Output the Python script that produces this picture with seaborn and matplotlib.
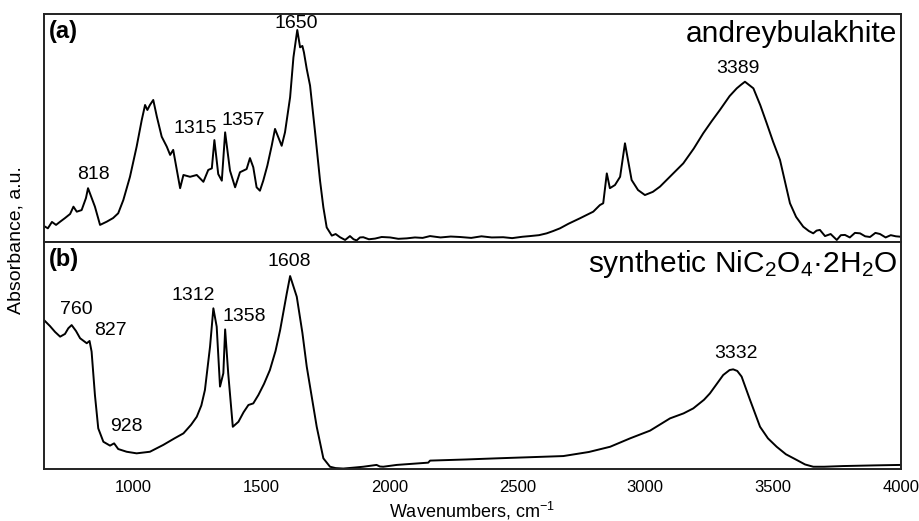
import numpy as np
import pandas as pd
import seaborn as sns
import matplotlib.pyplot as plt

# spectrum (a): andreybulakhite
wn_a = [650, 665, 681, 697, 713, 732, 752, 765, 778, 797, 814, 822, 849, 869, 895, 920, 940,
        960, 986, 1012, 1032, 1045, 1054, 1064, 1077, 1091, 1110, 1130, 1143, 1155, 1182, 1195,
        1221, 1247, 1273, 1292, 1306, 1316, 1331, 1345, 1358, 1377, 1397, 1416, 1442, 1455,
        1468, 1481, 1494, 1507, 1523, 1540, 1553, 1566, 1579, 1592, 1612, 1625, 1640, 1651,
        1660, 1666, 1677, 1690, 1709, 1729, 1742, 1755, 1775, 1790, 1807, 1827, 1846, 1860,
        1872, 1885, 1898, 1920, 1944, 1970, 2003, 2035, 2068, 2100, 2130, 2159, 2200, 2240,
        2276, 2320, 2360, 2400, 2445, 2480, 2520, 2550, 2585, 2615, 2640, 2667, 2700, 2745,
        2770, 2797, 2823, 2836, 2850, 2862, 2882, 2902, 2921, 2947, 2972, 2999, 3030, 3058,
        3100, 3149, 3190, 3227, 3260, 3292, 3330, 3358, 3375, 3390, 3423, 3450, 3475, 3500,
        3527, 3566, 3590, 3618, 3640, 3657, 3670, 3683, 3703, 3725, 3749, 3765, 3781, 3800,
        3820, 3840, 3860, 3879, 3900, 3918, 3940, 3960, 3980, 4000]
abs_a = [0.070, 0.060, 0.088, 0.075, 0.089, 0.105, 0.123, 0.155, 0.133, 0.140, 0.193, 0.236,
         0.155, 0.075, 0.089, 0.105, 0.126, 0.184, 0.286, 0.418, 0.535, 0.601, 0.579, 0.601,
         0.623, 0.550, 0.462, 0.418, 0.382, 0.404, 0.236, 0.294, 0.286, 0.294, 0.264, 0.316,
         0.323, 0.447, 0.298, 0.269, 0.481, 0.313, 0.240, 0.306, 0.320, 0.368, 0.328, 0.240,
         0.225, 0.269, 0.335, 0.422, 0.496, 0.459, 0.422, 0.481, 0.635, 0.810, 0.930, 0.854,
         0.860, 0.832, 0.759, 0.686, 0.488, 0.269, 0.152, 0.064, 0.028, 0.035, 0.021, 0.009,
         0.026, 0.012, 0.007, 0.020, 0.021, 0.012, 0.015, 0.022, 0.020, 0.014, 0.016, 0.020,
         0.018, 0.026, 0.020, 0.024, 0.022, 0.018, 0.025, 0.020, 0.021, 0.017, 0.023, 0.026,
         0.030, 0.038, 0.048, 0.060, 0.080, 0.104, 0.118, 0.133, 0.162, 0.170, 0.301, 0.236,
         0.250, 0.286, 0.433, 0.272, 0.228, 0.206, 0.220, 0.243, 0.290, 0.345, 0.410, 0.477,
         0.530, 0.579, 0.640, 0.674, 0.690, 0.703, 0.674, 0.600, 0.521, 0.440, 0.360, 0.170,
         0.110, 0.067, 0.048, 0.038, 0.050, 0.053, 0.026, 0.035, 0.009, 0.030, 0.031, 0.020,
         0.040, 0.038, 0.025, 0.022, 0.040, 0.035, 0.020, 0.030, 0.025, 0.023]

# spectrum (b): synthetic NiC2O4.2H2O
wn_b = [650, 673, 693, 713, 732, 745, 758, 775, 791, 817, 828, 836, 849, 862, 882, 908, 924,
        940, 973, 1012, 1064, 1116, 1160, 1195, 1225, 1247, 1265, 1279, 1299, 1312, 1325, 1338,
        1351, 1358, 1370, 1388, 1410, 1430, 1449, 1468, 1488, 1510, 1533, 1555, 1573, 1599, 1612,
        1638, 1660, 1677, 1716, 1742, 1768, 1790, 1820, 1860, 1898, 1950, 1963, 1976, 2029,
        2152, 2159, 2300, 2420, 2550, 2680, 2780, 2863, 2941, 3019, 3097, 3150, 3188, 3230,
        3253, 3280, 3305, 3330, 3344, 3360, 3377, 3410, 3449, 3480, 3514, 3550, 3592, 3625,
        3657, 3700, 3774, 3900, 4000]
abs_b = [0.656, 0.630, 0.604, 0.583, 0.595, 0.620, 0.634, 0.608, 0.576, 0.554, 0.564, 0.517,
         0.326, 0.179, 0.120, 0.103, 0.113, 0.088, 0.076, 0.069, 0.076, 0.106, 0.135, 0.157,
         0.195, 0.230, 0.280, 0.348, 0.539, 0.708, 0.627, 0.363, 0.422, 0.615, 0.422, 0.186,
         0.208, 0.250, 0.282, 0.289, 0.326, 0.375, 0.436, 0.520, 0.612, 0.774, 0.850, 0.759,
         0.600, 0.451, 0.186, 0.047, 0.010, 0.004, 0.002, 0.006, 0.010, 0.018, 0.011, 0.010,
         0.018, 0.028, 0.037, 0.042, 0.047, 0.052, 0.057, 0.075, 0.098, 0.135, 0.169, 0.223,
         0.245, 0.267, 0.305, 0.333, 0.375, 0.414, 0.436, 0.439, 0.432, 0.407, 0.304, 0.186,
         0.135, 0.098, 0.065, 0.040, 0.020, 0.010, 0.010, 0.013, 0.016, 0.018]

# peak labels: text, x, y (bottom of label)
labels_a = [("818", 845, 0.259), ("1315", 1240, 0.462), ("1357", 1428, 0.496),
            ("1650", 1635, 0.922), ("3389", 3361, 0.725)]
labels_b = [("760", 775, 0.664), ("827", 908, 0.573), ("928", 971, 0.150),
            ("1312", 1234, 0.727), ("1358", 1432, 0.634), ("1608", 1610, 0.877),
            ("3332", 3353, 0.473)]

sns.set_style("white")
plt.rcParams['font.family'] = ['Liberation Sans', 'DejaVu Sans']
plt.rcParams['text.color'] = 'black'
plt.rcParams['xtick.color'] = 'black'
plt.rcParams['mathtext.fontset'] = 'custom'
plt.rcParams['mathtext.rm'] = 'Liberation Sans'
plt.rcParams['mathtext.it'] = 'Liberation Sans'
plt.rcParams['mathtext.default'] = 'regular'

fig = plt.figure(figsize=(9.19, 5.21), dpi=100)
ax_a = fig.add_axes([0.0479, 0.5355, 0.9325, 0.4376])
ax_b = fig.add_axes([0.0479, 0.0998, 0.9325, 0.4357])

df_a = pd.DataFrame({'wn': wn_a, 'A': abs_a})
df_b = pd.DataFrame({'wn': wn_b, 'A': abs_b})
sns.lineplot(data=df_a, x='wn', y='A', ax=ax_a, color='black', lw=1.4)
sns.lineplot(data=df_b, x='wn', y='A', ax=ax_b, color='black', lw=1.4)

for ax in (ax_a, ax_b):
    ax.set_xlim(650, 4000)
    ax.set_ylim(0, 1)
    ax.set_yticks([])
    ax.set_xlabel('')
    ax.set_ylabel('')
    for s in ax.spines.values():
        s.set_color('#222222')
        s.set_linewidth(1.4)
    ax.tick_params(axis='x', length=0)

ax_a.set_xticks([])
ax_b.set_xticks(np.arange(1000, 4001, 500))
ax_b.tick_params(axis='x', labelsize=12, pad=8, labelcolor='black')

for t, x, y in labels_a:
    ax_a.text(x, y, t, ha='center', va='bottom', fontsize=14)
for t, x, y in labels_b:
    ax_b.text(x, y, t, ha='center', va='bottom', fontsize=14)

ax_a.text(0.006, 0.975, '(a)', transform=ax_a.transAxes, ha='left', va='top',
          fontsize=17, fontweight='bold')
ax_b.text(0.006, 0.975, '(b)', transform=ax_b.transAxes, ha='left', va='top',
          fontsize=17, fontweight='bold')
ax_a.text(0.996, 0.975, 'andreybulakhite', transform=ax_a.transAxes, ha='right', va='top',
          fontsize=21.5)
ax_b.text(0.996, 0.975, 'synthetic NiC$_2$O$_4$·2H$_2$O', transform=ax_b.transAxes,
          ha='right', va='top', fontsize=21.5)

fig.text(0.017, 0.54, 'Absorbance, a.u.', rotation=90, ha='center', va='center', fontsize=14)
fig.text(0.514, 0.019, 'Wavenumbers, cm$^{-1}$', ha='center', va='center', fontsize=13)

fig.savefig('out.png', dpi=100)
